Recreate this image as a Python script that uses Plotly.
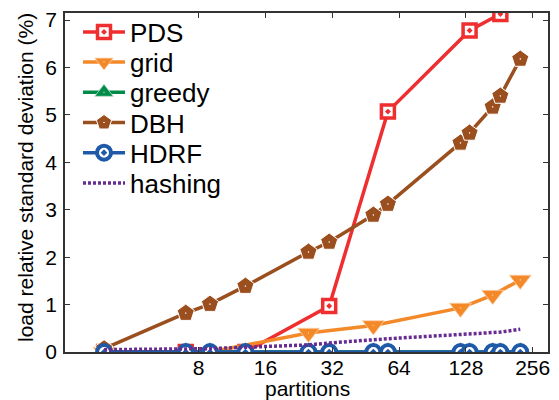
import math
import plotly.graph_objects as go

partitions = [3, 7, 9, 13, 25, 31, 49, 57, 121, 133, 169, 183, 225]

pds_x = [3, 7, 13, 31, 57, 133, 183]
pds_y = [0, 0, 0, 0.97, 5.07, 6.78, 7.13]

grid_x = [3, 9, 25, 49, 121, 169, 225]
grid_y = [0, 0, 0.40, 0.56, 0.93, 1.20, 1.52]

greedy_y = [0] * 13
dbh_y = [0.07, 0.82, 1.01, 1.39, 2.11, 2.32, 2.89, 3.12, 4.41, 4.62, 5.17, 5.40, 6.18]
hdrf_y = [0] * 13
hashing_y = [0.05, 0.06, 0.07, 0.10, 0.15, 0.19, 0.26, 0.28, 0.37, 0.38, 0.41, 0.42, 0.48]

x_ticks = [8, 16, 32, 64, 128, 256]
y_ticks = [0, 1, 2, 3, 4, 5, 6, 7]

x_title = "partitions"
y_title = "load relative standard deviation (%)"

FONT = "Liberation Sans"
RED = "#ee2e2f"
ORANGE = "#f4892a"
GREEN = "#008c48"
BROWN = "#9b4f1e"
BLUE = "#1f5aa8"
PURPLE = "#662c91"

W, H = 559, 400
L, R, T, B = 65, 11, 13, 48
PW, PH = W - L - R, H - T - B

fig = go.Figure()
fig.add_trace(go.Scatter(x=pds_x, y=pds_y, name="PDS", mode="lines+markers",
                         line=dict(color=RED, width=3.5),
                         marker=dict(symbol="square-dot", size=13, color="white",
                                     line=dict(color=RED, width=3.5)),
                         legend="legend"))
fig.add_trace(go.Scatter(x=grid_x, y=grid_y, name="grid", mode="lines+markers",
                         line=dict(color=ORANGE, width=3.5),
                         marker=dict(symbol="triangle-down-dot", size=19, color=ORANGE,
                                     line=dict(color="#fbd3ad", width=0.8)),
                         legend="legend2"))
fig.add_trace(go.Scatter(x=partitions, y=greedy_y, name="greedy", mode="lines+markers",
                         line=dict(color=GREEN, width=3.5),
                         marker=dict(symbol="triangle-up-dot", size=19, color=GREEN,
                                     line=dict(color="#b5dcc6", width=0.8)),
                         legend="legend3"))
fig.add_trace(go.Scatter(x=partitions, y=dbh_y, name="DBH", mode="lines+markers",
                         line=dict(color=BROWN, width=3.5),
                         marker=dict(symbol="pentagon-dot", size=18, color=BROWN,
                                     line=dict(color="white", width=1)),
                         legend="legend4"))
fig.add_trace(go.Scatter(x=partitions, y=hdrf_y, name="HDRF", mode="lines+markers",
                         line=dict(color=BLUE, width=3.5),
                         marker=dict(symbol="circle-dot", size=14, color="white",
                                     line=dict(color=BLUE, width=4)),
                         legend="legend5"))
fig.add_trace(go.Scatter(x=partitions, y=hashing_y, name="hashing", mode="lines",
                         line=dict(color=PURPLE, width=3.5, dash="3px,2px"),
                         legend="legend6"))

row0, rowgap = 32, 30.2
leg_left = 78
legends = {}
for i in range(6):
    ypix = row0 + rowgap * i
    key = "legend" if i == 0 else f"legend{i+1}"
    legends[key] = dict(
        x=(leg_left - L) / PW, y=(H - B - ypix) / PH,
        xanchor="left", yanchor="middle",
        bgcolor="rgba(0,0,0,0)", borderwidth=0,
        font=dict(family=FONT, size=26, color="black"),
        itemwidth=42, tracegroupgap=0,
    )

fig.update_layout(
    template="none",
    width=W, height=H,
    margin=dict(l=L, r=R, t=T, b=B, pad=0, autoexpand=False),
    paper_bgcolor="white", plot_bgcolor="white",
    font=dict(family=FONT, size=21, color="black"),
    showlegend=True,
    annotations=[
        dict(text=x_title, xref="paper", yref="paper",
             x=(307 - L) / PW, y=(H - B - 388) / PH,
             xanchor="center", yanchor="middle", showarrow=False,
             font=dict(family=FONT, size=21, color="black")),
        dict(text=y_title, xref="paper", yref="paper", textangle=-90,
             x=(25 - L) / PW, y=(H - B - 178) / PH,
             xanchor="center", yanchor="middle", showarrow=False,
             font=dict(family=FONT, size=21, color="black")),
    ],
    **legends,
)

fig.update_xaxes(
    type="log", range=[math.log10(2), math.log10(300)],
    tickvals=x_ticks, ticktext=[str(v) for v in x_ticks],
    ticks="inside", ticklen=5, tickwidth=1, tickcolor="#333",
    showline=True, linecolor="#333", linewidth=1.5, mirror="ticks",
    showgrid=False, zeroline=False, automargin=False, ticklabelstandoff=-4,
    tickfont=dict(family=FONT, size=21, color="black"),
)
fig.update_yaxes(
    range=[0, 7.15],
    tickvals=y_ticks, ticktext=[str(v) for v in y_ticks],
    ticks="inside", ticklen=5, tickwidth=1, tickcolor="#333",
    showline=True, linecolor="#333", linewidth=1.5, mirror="ticks",
    showgrid=False, zeroline=False, automargin=False, ticklabelstandoff=2,
    tickfont=dict(family=FONT, size=21, color="black"),
)

fig.write_html("out.html",
               config={"displayModeBar": False},
               post_script="document.body.style.margin='0';document.body.style.overflow='hidden';")
